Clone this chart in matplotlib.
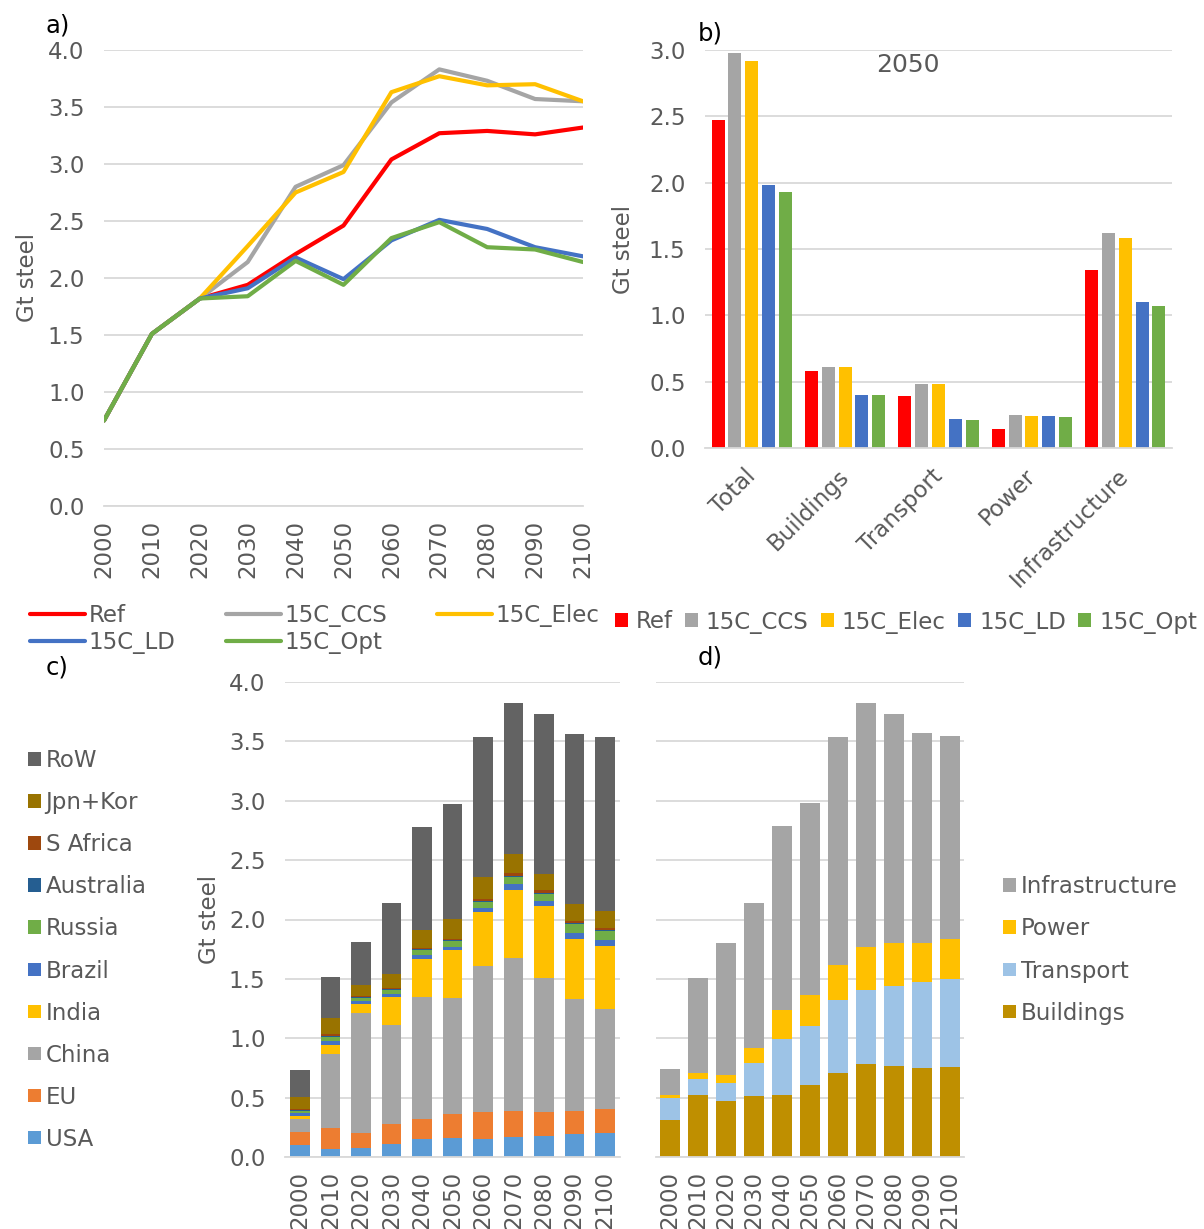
import matplotlib
matplotlib.use('Agg')
import matplotlib.pyplot as plt
import matplotlib.transforms as mtransforms
from matplotlib.ticker import FormatStrFormatter
import numpy as np

plt.rcParams['font.family'] = ['DejaVu Sans']

# ── Theme ────────────────────────────────────────────────────
FS = 16.5
TXT = '#595959'
GRID = '#D9D9D9'

# ── Data: a) global steel demand by scenario ─────────────────
years = [2000, 2010, 2020, 2030, 2040, 2050, 2060, 2070, 2080, 2090, 2100]
scenarios = ['Ref', '15C_CCS', '15C_Elec', '15C_LD', '15C_Opt']
sc_colors = ['#FF0000', '#A5A5A5', '#FFC000', '#4472C4', '#70AD47']
ref = [0.75, 1.51, 1.82, 1.94, 2.21, 2.46, 3.04, 3.27, 3.29, 3.26, 3.32]
ccs = [0.75, 1.51, 1.82, 2.14, 2.80, 2.99, 3.54, 3.83, 3.73, 3.57, 3.55]
elec = [0.75, 1.51, 1.82, 2.28, 2.75, 2.93, 3.63, 3.77, 3.69, 3.70, 3.55]
ld = [0.75, 1.51, 1.82, 1.91, 2.18, 1.99, 2.33, 2.51, 2.43, 2.27, 2.19]
opt = [0.75, 1.51, 1.82, 1.84, 2.15, 1.94, 2.35, 2.49, 2.27, 2.25, 2.14]

# ── Data: b) 2050 by sector ──────────────────────────────────
sectors = ['Total', 'Buildings', 'Transport', 'Power', 'Infrastructure']
b_ref = [2.47, 0.58, 0.39, 0.14, 1.34]
b_ccs = [2.98, 0.61, 0.48, 0.25, 1.62]
b_elec = [2.92, 0.61, 0.48, 0.24, 1.58]
b_ld = [1.98, 0.40, 0.22, 0.24, 1.10]
b_opt = [1.93, 0.40, 0.21, 0.23, 1.07]

# ── Data: c) 15C_CCS by region ───────────────────────────────
regions = ['USA', 'EU', 'China', 'India', 'Brazil', 'Russia',
           'Australia', 'S Africa', 'Jpn+Kor', 'RoW']
reg_colors = ['#5B9BD5', '#ED7D31', '#A5A5A5', '#FFC000', '#4472C4',
              '#70AD47', '#255E91', '#9E480E', '#997300', '#636363']
usa = [0.097, 0.071, 0.08, 0.11, 0.15, 0.16, 0.15, 0.165, 0.175, 0.19, 0.205]
eu = [0.11, 0.17, 0.12, 0.17, 0.17, 0.20, 0.225, 0.22, 0.205, 0.20, 0.20]
china = [0.115, 0.63, 1.01, 0.83, 1.03, 0.98, 1.23, 1.295, 1.13, 0.94, 0.84]
india = [0.025, 0.076, 0.08, 0.24, 0.32, 0.40, 0.455, 0.57, 0.60, 0.51, 0.53]
brazil = [0.022, 0.03, 0.02, 0.025, 0.03, 0.03, 0.035, 0.05, 0.05, 0.05, 0.055]
russia = [0.02, 0.035, 0.03, 0.03, 0.04, 0.045, 0.05, 0.06, 0.055, 0.07, 0.07]
australia = [0.005, 0.01, 0.01, 0.01, 0.01, 0.01, 0.01, 0.01, 0.01, 0.01, 0.01]
safrica = [0.01, 0.01, 0.01, 0.01, 0.01, 0.01, 0.015, 0.02, 0.02, 0.02, 0.02]
jpnkor = [0.104, 0.135, 0.09, 0.12, 0.15, 0.17, 0.185, 0.16, 0.14, 0.14, 0.145]
row = [0.225, 0.348, 0.36, 0.59, 0.87, 0.97, 1.18, 1.275, 1.345, 1.43, 1.465]

# ── Data: d) 15C_CCS by end use ──────────────────────────────
uses = ['Buildings', 'Transport', 'Power', 'Infrastructure']
use_colors = ['#BF8F00', '#9DC3E6', '#FFC000', '#A5A5A5']
buildings = [0.31, 0.52, 0.47, 0.51, 0.525, 0.61, 0.71, 0.78, 0.77, 0.75, 0.755]
transport = [0.185, 0.135, 0.155, 0.285, 0.47, 0.49, 0.61, 0.625, 0.67, 0.72, 0.745]
power = [0.03, 0.05, 0.065, 0.125, 0.245, 0.265, 0.295, 0.365, 0.36, 0.33, 0.34]
infra = [0.22, 0.805, 1.115, 1.22, 1.55, 1.615, 1.92, 2.055, 1.93, 1.77, 1.705]


def _style(ax, ymax, ylabels=True):
    ax.set_ylim(0, ymax)
    ax.set_yticks(np.arange(0, ymax + 0.01, 0.5))
    ax.yaxis.set_major_formatter(FormatStrFormatter('%.1f'))
    ax.grid(axis='y', color=GRID, linewidth=1.3)
    ax.set_axisbelow(True)
    for s in ['left', 'right', 'top']:
        ax.spines[s].set_visible(False)
    ax.spines['bottom'].set_color(GRID)
    ax.spines['bottom'].set_linewidth(1.3)
    ax.tick_params(axis='both', length=0, labelsize=FS, labelcolor=TXT)
    ax.tick_params(axis='y', pad=14)
    if not ylabels:
        ax.set_yticklabels([])


def _legend_grey(leg):
    for t in leg.get_texts():
        t.set_color(TXT)


W, H = 1204, 1229
fig = plt.figure(figsize=(W / 100, H / 100), dpi=100)


def _axes(x0, x1, y_top, y_bot):
    return fig.add_axes([x0 / W, 1 - y_bot / H, (x1 - x0) / W, (y_bot - y_top) / H])


# ── a) Lines ─────────────────────────────────────────────────
ax1 = _axes(104, 583, 50, 506)
lines = []
for vals, lab, col in zip([ref, ccs, elec, ld, opt], scenarios, sc_colors):
    ln, = ax1.plot(years, vals, color=col, lw=3, label=lab,
                   solid_joinstyle='round', solid_capstyle='round')
    lines.append(ln)
_style(ax1, 4.0)
ax1.set_xlim(2000, 2100)
ax1.set_xticks(years)
ax1.set_xticklabels([str(y) for y in years], rotation=90)
ax1.tick_params(axis='x', pad=10)
ax1.set_ylabel('Gt steel', fontsize=FS, color=TXT)
ax1.yaxis.set_label_coords(-0.135, 0.5)
order = [0, 3, 1, 4, 2]
leg_a = fig.legend([lines[i] for i in order], [scenarios[i] for i in order],
                   ncol=3, loc='upper left', bbox_to_anchor=(30 / W, 1 - 604 / H),
                   frameon=False, fontsize=FS, handlelength=2.4, handletextpad=0.15,
                   columnspacing=2.2, labelspacing=0.16, borderpad=0, borderaxespad=0)
_legend_grey(leg_a)

# ── b) 2050 sector bars ──────────────────────────────────────
ax2 = _axes(705, 1172, 50, 448)
xb = np.arange(len(sectors))
bars_b = []
for j, (vals, lab, col) in enumerate(zip([b_ref, b_ccs, b_elec, b_ld, b_opt],
                                         scenarios, sc_colors)):
    bb = ax2.bar(xb + (j - 2) * 0.18, vals, width=0.14, color=col, label=lab)
    bars_b.append(bb)
_style(ax2, 3.0)
ax2.set_xlim(-0.5, len(sectors) - 0.5)
ax2.set_xticks(xb)
ax2.set_xticklabels(sectors, rotation=45, ha='right', va='top',
                    rotation_mode='anchor')
ax2.tick_params(axis='x', pad=12)
shift = mtransforms.ScaledTranslation(-8 / 100, 0, fig.dpi_scale_trans)
for lbl in ax2.get_xticklabels():
    lbl.set_transform(lbl.get_transform() + shift)
ax2.set_ylabel('Gt steel', fontsize=FS, color=TXT)
ax2.yaxis.set_label_coords(-0.15, 0.5)
ax2.text(0.435, 0.962, '2050', transform=ax2.transAxes, fontsize=18,
         color=TXT, ha='center', va='center')
leg_b = fig.legend(bars_b, scenarios, ncol=5, loc='center',
                   bbox_to_anchor=(906 / W, 1 - 622 / H), frameon=False,
                   fontsize=FS, handlelength=0.55, handleheight=0.55,
                   handletextpad=0.35, columnspacing=0.55, borderpad=0,
                   borderaxespad=0)
_legend_grey(leg_b)

# ── c) Stacked by region ─────────────────────────────────────
ax3 = _axes(285, 620, 682, 1157)
xc = np.arange(len(years))
bottom = np.zeros(len(years))
bars_c = []
for vals, lab, col in zip([usa, eu, china, india, brazil, russia, australia,
                           safrica, jpnkor, row], regions, reg_colors):
    bc = ax3.bar(xc, vals, bottom=bottom, width=0.64, color=col, label=lab)
    bars_c.append(bc)
    bottom += np.array(vals)
_style(ax3, 4.0)
ax3.set_xlim(-0.5, len(years) - 0.5)
ax3.set_xticks(xc)
ax3.set_xticklabels([str(y) for y in years], rotation=90)
ax3.tick_params(axis='x', pad=10)
ax3.set_ylabel('Gt steel', fontsize=FS, color=TXT)
ax3.yaxis.set_label_coords(-0.19, 0.5)
leg_c = fig.legend(bars_c[::-1], regions[::-1], loc='center left',
                   bbox_to_anchor=(28 / W, 1 - 950 / H), frameon=False,
                   fontsize=FS, handlelength=0.55, handleheight=0.55,
                   handletextpad=0.22, labelspacing=0.83, borderpad=0,
                   borderaxespad=0)
_legend_grey(leg_c)

# ── d) Stacked by end use ────────────────────────────────────
ax4 = _axes(656, 964, 682, 1157)
bottom = np.zeros(len(years))
bars_d = []
for vals, lab, col in zip([buildings, transport, power, infra], uses, use_colors):
    bd = ax4.bar(xc, vals, bottom=bottom, width=0.68, color=col, label=lab)
    bars_d.append(bd)
    bottom += np.array(vals)
_style(ax4, 4.0, ylabels=False)
ax4.set_xlim(-0.5, len(years) - 0.5)
ax4.set_xticks(xc)
ax4.set_xticklabels([str(y) for y in years], rotation=90)
ax4.tick_params(axis='x', pad=10)
leg_d = fig.legend(bars_d[::-1], uses[::-1], loc='center left',
                   bbox_to_anchor=(1003 / W, 1 - 950 / H), frameon=False,
                   fontsize=FS, handlelength=0.55, handleheight=0.55,
                   handletextpad=0.22, labelspacing=0.83, borderpad=0,
                   borderaxespad=0)
_legend_grey(leg_d)

# ── Panel letters ────────────────────────────────────────────
for lab, (px, py) in zip(['a)', 'b)', 'c)', 'd)'],
                         [(58, 25), (710, 34), (57, 668), (710, 658)]):
    fig.text(px / W, 1 - py / H, lab, fontsize=17.5, color='black',
             ha='center', va='center')

fig.savefig('out.png', dpi=100, facecolor='white')
